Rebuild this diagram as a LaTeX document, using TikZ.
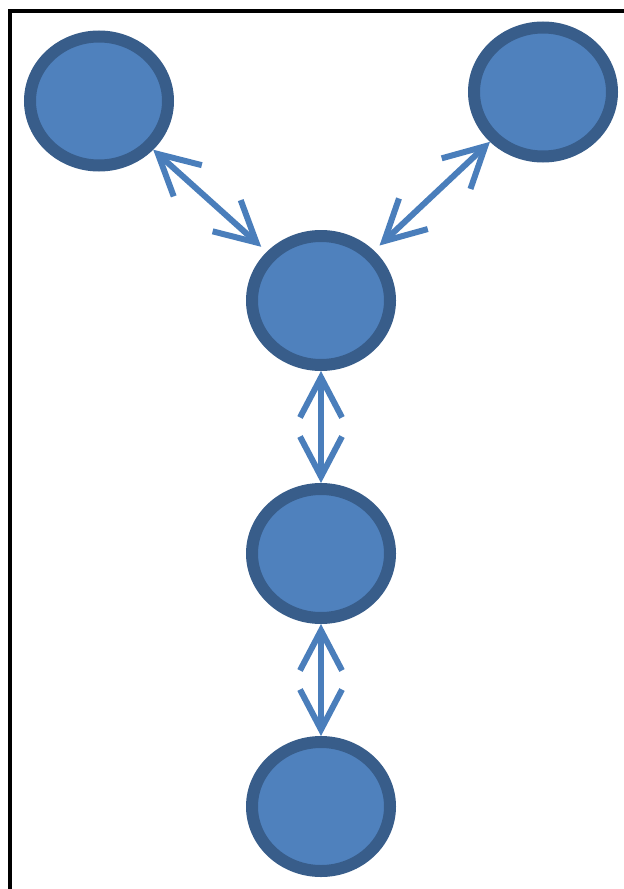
\documentclass[tikz,border=0pt]{standalone}
\usepackage{tikz}
\usetikzlibrary{arrows.meta, positioning, shapes.geometric}
\definecolor{nodefill}{HTML}{4F81BD}
\definecolor{noderim}{HTML}{385D8A}
\definecolor{linkblue}{HTML}{4A7EBB}

\begin{document}
\begin{tikzpicture}[node distance=5.06cm,on grid]
    \tikzstyle{peer}=[shape=ellipse,fill=nodefill,draw=noderim,line width=0.24cm,minimum width=2.76cm,minimum height=2.58cm,inner sep=0pt]
    \tikzstyle{link}=[{Straight Barb[length=0.8cm,width=0.84cm]}-{Straight Barb[length=0.8cm,width=0.84cm]},line width=0.12cm,draw=linkblue,line cap=round]

    \useasboundingbox (0,0) rectangle (12.48,-17.78);
    % frame, left and top only
    \draw[line width=0.09cm] (0.2,-17.78) -- (0.2,-0.22) -- (12.48,-0.22);

    \node[peer] (C) at (6.42,-6.01) {};
    \node[peer, above left=3.99cm and 4.44cm of C] (TL) {};
    \node[peer, above right=4.17cm and 4.44cm of C] (TR) {};
    \node[peer, below of=C] (D) {};
    \node[peer, below of=D] (E) {};

    \path[link]
    (TL) edge[shorten >=0.15cm] (C)
    (TR) edge[shorten >=0.15cm] (C)
    (C) edge (D)
    (D) edge (E)
    ;

\end{tikzpicture}
\end{document}
